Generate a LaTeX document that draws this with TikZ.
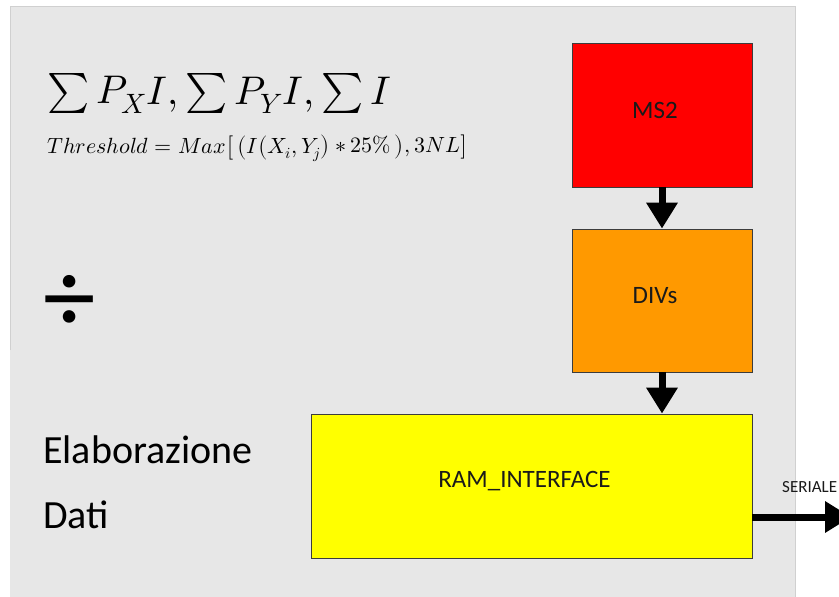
\documentclass[tikz,border=0pt]{standalone}
\usepackage{fontspec}
\usepackage{unicode-math}
\setmainfont{Carlito}
\setmathfont{Latin Modern Math}
\usetikzlibrary{arrows.meta}
\definecolor{panel}{HTML}{E7E7E7}
\definecolor{panelline}{HTML}{D0D0D0}
\definecolor{boxline}{HTML}{3C3C3C}
\definecolor{ms2red}{HTML}{FF0000}
\definecolor{divorange}{HTML}{FF9900}
\definecolor{ramyellow}{HTML}{FFFF00}
\definecolor{labeltext}{HTML}{1A1A1A}
\tikzset{
  block/.style={draw=boxline, line width=0.8pt, inner sep=0pt},
  blocktext/.style={label={[xshift=-7pt, yshift=5pt, inner sep=0pt, text=labeltext,
                font=\fontsize{25}{30}\selectfont]center:#1}},
  flow/.style={line width=7pt, -{Triangle[width=30pt,length=26pt]}},
  caption/.style={anchor=base west, inner sep=0pt, text=black},
}
\begin{document}
\begin{tikzpicture}[x=1pt, y=-1pt]
  \clip (0,0) rectangle (839,597);
  \fill[white] (0,0) rectangle (839,597);
  % grey panel
  \fill[panel] (10,6) rectangle (795,597);
  \draw[panelline, line width=0.8pt] (10,350) -- (10,6) -- (795,6) -- (795,597);

  % formulas
  \node[caption] (sums) at (47,104)
    {\fontsize{40}{48}\selectfont $\sum P_X I, \sum P_Y I, \sum I$};
  \node[caption] (thr) at (47,153)
    {\fontsize{22}{26}\selectfont $Threshold = Max\bigl[\,\bigl(I\bigl(X_i,Y_j\bigr)\ast 25\%\,\bigr),3NL\bigr]$};
  \node (divsign) at (70,304) {\fontsize{105}{110}\selectfont ÷};

  % section title
  \node[caption] (elab) at (43,463) {\fontsize{40}{46}\selectfont Elaborazione};
  \node[caption] (dati) at (43,528) {\fontsize{40}{46}\selectfont Dati};

  % processing blocks
  \node[block, fill=ms2red, minimum width=180pt, minimum height=144pt, blocktext=MS2] (ms2) at (662,115) {};
  \node[block, fill=divorange, minimum width=180pt, minimum height=143pt, blocktext=DIVs] (divs) at (662,300.5) {};
  \node[block, fill=ramyellow, minimum width=441pt, minimum height=144pt, blocktext=RAM\_INTERFACE] (ram) at (531.5,486) {};

  \draw[flow] (ms2.south) -- (divs.north);
  \draw[flow] (divs.south) -- (divs.south |- ram.north);

  % serial output
  \coordinate (serout) at (851,517);
  \draw[flow] (ram.east |- serout) -- (serout);
  \node[caption, text=labeltext] (seriale) at (782,492) {\fontsize{17}{20}\selectfont SERIALE};
\end{tikzpicture}
\end{document}
